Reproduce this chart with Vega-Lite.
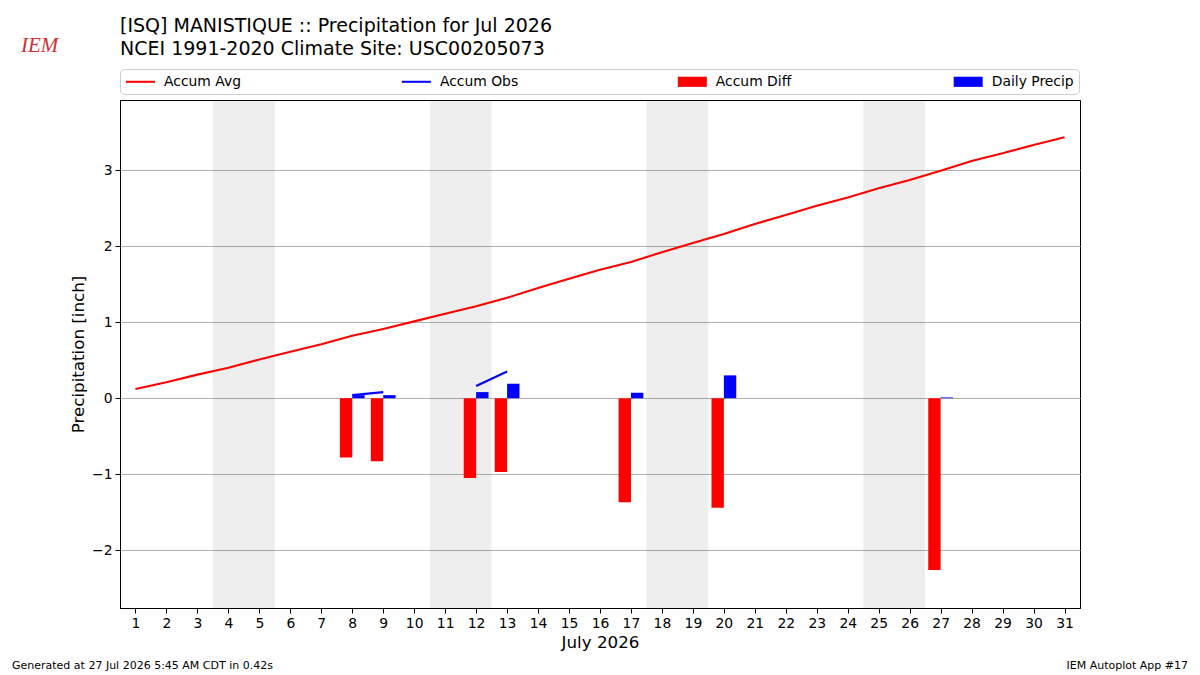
{
  "$schema": "https://vega.github.io/schema/vega-lite/v6.json",
  "width": 960,
  "height": 508,
  "autosize": {"type": "none"},
  "padding": {"left": 120, "top": 100, "right": 120, "bottom": 67},
  "background": "white",
  "title": {
    "text": ["[ISQ] MANISTIQUE :: Precipitation for Jul 2026", "NCEI 1991-2020 Climate Site: USC00205073"],
    "anchor": "start",
    "frame": "group",
    "font": "DejaVu Sans",
    "fontSize": 19,
    "fontWeight": "normal",
    "color": "black",
    "lineHeight": 23,
    "offset": -24
  },
  "config": {
    "font": "DejaVu Sans",
    "view": {"stroke": "black", "strokeWidth": 1},
    "axis": {
      "domainColor": "black",
      "tickColor": "black",
      "labelColor": "black",
      "titleColor": "black",
      "labelFont": "DejaVu Sans",
      "titleFont": "DejaVu Sans",
      "labelFontSize": 13.9,
      "titleFontSize": 16.7,
      "titleFontWeight": "normal",
      "tickSize": 5,
      "labelPadding": 3,
      "gridColor": "#b0b0b0",
      "gridOpacity": 1,
      "gridWidth": 1
    }
  },
  "datasets": {
    "weekends": [
      {"from": 3.5, "to": 5.5},
      {"from": 10.5, "to": 12.5},
      {"from": 17.5, "to": 19.5},
      {"from": 24.5, "to": 26.5}
    ],
    "lines": [
      {"day": 1, "series": "Accum Avg", "run": "avg", "value": 0.12},
      {"day": 2, "series": "Accum Avg", "run": "avg", "value": 0.21},
      {"day": 3, "series": "Accum Avg", "run": "avg", "value": 0.31},
      {"day": 4, "series": "Accum Avg", "run": "avg", "value": 0.40},
      {"day": 5, "series": "Accum Avg", "run": "avg", "value": 0.51},
      {"day": 6, "series": "Accum Avg", "run": "avg", "value": 0.61},
      {"day": 7, "series": "Accum Avg", "run": "avg", "value": 0.71},
      {"day": 8, "series": "Accum Avg", "run": "avg", "value": 0.82},
      {"day": 9, "series": "Accum Avg", "run": "avg", "value": 0.91},
      {"day": 10, "series": "Accum Avg", "run": "avg", "value": 1.01},
      {"day": 11, "series": "Accum Avg", "run": "avg", "value": 1.11},
      {"day": 12, "series": "Accum Avg", "run": "avg", "value": 1.21},
      {"day": 13, "series": "Accum Avg", "run": "avg", "value": 1.32},
      {"day": 14, "series": "Accum Avg", "run": "avg", "value": 1.45},
      {"day": 15, "series": "Accum Avg", "run": "avg", "value": 1.57},
      {"day": 16, "series": "Accum Avg", "run": "avg", "value": 1.69},
      {"day": 17, "series": "Accum Avg", "run": "avg", "value": 1.79},
      {"day": 18, "series": "Accum Avg", "run": "avg", "value": 1.92},
      {"day": 19, "series": "Accum Avg", "run": "avg", "value": 2.04},
      {"day": 20, "series": "Accum Avg", "run": "avg", "value": 2.16},
      {"day": 21, "series": "Accum Avg", "run": "avg", "value": 2.29},
      {"day": 22, "series": "Accum Avg", "run": "avg", "value": 2.41},
      {"day": 23, "series": "Accum Avg", "run": "avg", "value": 2.53},
      {"day": 24, "series": "Accum Avg", "run": "avg", "value": 2.64},
      {"day": 25, "series": "Accum Avg", "run": "avg", "value": 2.76},
      {"day": 26, "series": "Accum Avg", "run": "avg", "value": 2.87},
      {"day": 27, "series": "Accum Avg", "run": "avg", "value": 2.99},
      {"day": 28, "series": "Accum Avg", "run": "avg", "value": 3.12},
      {"day": 29, "series": "Accum Avg", "run": "avg", "value": 3.22},
      {"day": 30, "series": "Accum Avg", "run": "avg", "value": 3.33},
      {"day": 31, "series": "Accum Avg", "run": "avg", "value": 3.43},
      {"day": 8, "series": "Accum Obs", "run": "obs1", "value": 0.04},
      {"day": 9, "series": "Accum Obs", "run": "obs1", "value": 0.08},
      {"day": 12, "series": "Accum Obs", "run": "obs2", "value": 0.16},
      {"day": 13, "series": "Accum Obs", "run": "obs2", "value": 0.35},
      {"day": 17, "series": "Accum Obs", "run": "obs3", "value": 0.42},
      {"day": 20, "series": "Accum Obs", "run": "obs4", "value": 0.72},
      {"day": 27, "series": "Accum Obs", "run": "obs5", "value": 0.73}
    ],
    "bars": [
      {"day": 8, "series": "Accum Diff", "value": -0.78},
      {"day": 9, "series": "Accum Diff", "value": -0.83},
      {"day": 12, "series": "Accum Diff", "value": -1.05},
      {"day": 13, "series": "Accum Diff", "value": -0.97},
      {"day": 17, "series": "Accum Diff", "value": -1.37},
      {"day": 20, "series": "Accum Diff", "value": -1.44},
      {"day": 27, "series": "Accum Diff", "value": -2.26},
      {"day": 8, "series": "Daily Precip", "value": 0.04},
      {"day": 9, "series": "Daily Precip", "value": 0.04},
      {"day": 12, "series": "Daily Precip", "value": 0.08},
      {"day": 13, "series": "Daily Precip", "value": 0.19},
      {"day": 17, "series": "Daily Precip", "value": 0.07},
      {"day": 20, "series": "Daily Precip", "value": 0.30},
      {"day": 27, "series": "Daily Precip", "value": 0.01}
    ]
  },
  "resolve": {"scale": {"x": "independent"}},
  "layer": [
    {
      "data": {"name": "weekends"},
      "mark": {"type": "rect", "color": "black", "opacity": 0.068},
      "encoding": {
        "x": {
          "field": "from",
          "type": "quantitative",
          "scale": {"domain": [0.5, 31.5], "nice": false, "zero": false},
          "axis": {
            "values": [1,2,3,4,5,6,7,8,9,10,11,12,13,14,15,16,17,18,19,20,21,22,23,24,25,26,27,28,29,30,31],
            "format": "d",
            "title": "July 2026",
            "grid": false,
            "labelAngle": 0,
            "labelFlush": false,
            "labelOverlap": false,
            "titlePadding": 5
          }
        },
        "x2": {"field": "to"}
      }
    },
    {
      "data": {"name": "bars"},
      "mark": {"type": "bar"},
      "encoding": {
        "x": {
          "field": "day",
          "type": "ordinal",
          "scale": {
            "domain": [1,2,3,4,5,6,7,8,9,10,11,12,13,14,15,16,17,18,19,20,21,22,23,24,25,26,27,28,29,30,31],
            "paddingInner": 0.2,
            "paddingOuter": 0.1
          },
          "axis": null
        },
        "xOffset": {"field": "series", "scale": {"domain": ["Accum Diff", "Daily Precip"]}},
        "y": {
          "field": "value",
          "type": "quantitative",
          "title": "Precipitation [inch]",
          "scale": {"domain": [-2.759, 3.921], "nice": false, "zero": false},
          "axis": {"values": [-2, -1, 0, 1, 2, 3], "format": "d", "grid": true, "titlePadding": 4}
        },
        "color": {
          "field": "series",
          "type": "nominal",
          "scale": {
            "domain": ["Accum Avg", "Accum Obs", "Accum Diff", "Daily Precip"],
            "range": ["#ff0000", "#0000ff", "#ff0000", "#0000ff"]
          },
          "legend": {
            "orient": "none",
            "legendX": 0,
            "legendY": -31,
            "direction": "horizontal",
            "columns": 4,
            "gridAlign": "all",
            "columnPadding": 154.9,
            "padding": 5,
            "title": null,
            "strokeColor": "#cccccc",
            "fillColor": "white",
            "cornerRadius": 4,
            "labelFont": "DejaVu Sans",
            "labelFontSize": 13.9,
            "labelColor": "black",
            "labelOffset": 16,
            "symbolOffset": 8,
            "symbolSize": 210,
            "symbolStrokeWidth": 0,
            "symbolOpacity": 1,
            "symbolType": "M-2,-0.7H2V0.7H-2Z",
            "encode": {
              "symbols": {
                "update": {
                  "shape": {"signal": "indexof(['Accum Avg', 'Accum Obs'], datum.value) >= 0 ? 'M-2,-0.14H2V0.14H-2Z' : 'M-2,-0.7H2V0.7H-2Z'"},
                  "fill": {"signal": "scale('color', datum.value)"},
                  "strokeWidth": {"value": 0},
                  "opacity": {"value": 1}
                }
              }
            }
          }
        }
      }
    },
    {
      "data": {"name": "lines"},
      "mark": {"type": "line", "strokeWidth": 2.1},
      "encoding": {
        "x": {
          "field": "day",
          "type": "quantitative",
          "scale": {"domain": [0.5, 31.5], "nice": false, "zero": false},
          "axis": null
        },
        "y": {
          "field": "value",
          "type": "quantitative",
          "title": "Precipitation [inch]",
          "scale": {"domain": [-2.759, 3.921], "nice": false, "zero": false}
        },
        "color": {
          "field": "series",
          "type": "nominal",
          "scale": {
            "domain": ["Accum Avg", "Accum Obs", "Accum Diff", "Daily Precip"],
            "range": ["#ff0000", "#0000ff", "#ff0000", "#0000ff"]
          }
        },
        "detail": {"field": "run"}
      }
    },
    {
      "data": {"values": [{"label": "Generated at 27 Jul 2026 5:45 AM CDT in 0.42s"}]},
      "mark": {"type": "text", "align": "left", "baseline": "alphabetic", "fontSize": 11, "color": "black", "clip": false},
      "encoding": {
        "x": {"datum": -2.988, "type": "quantitative", "scale": {"domain": [0.5, 31.5], "nice": false, "zero": false}, "axis": null},
        "y": {"datum": -3.562, "type": "quantitative", "title": "Precipitation [inch]", "scale": {"domain": [-2.759, 3.921], "nice": false, "zero": false}},
        "text": {"field": "label"}
      }
    },
    {
      "data": {"values": [{"label": "IEM Autoplot App #17"}]},
      "mark": {"type": "text", "align": "right", "baseline": "alphabetic", "fontSize": 11, "color": "black", "clip": false},
      "encoding": {
        "x": {"datum": 34.988, "type": "quantitative", "scale": {"domain": [0.5, 31.5], "nice": false, "zero": false}, "axis": null},
        "y": {"datum": -3.562, "type": "quantitative", "title": "Precipitation [inch]", "scale": {"domain": [-2.759, 3.921], "nice": false, "zero": false}},
        "text": {"field": "label"}
      }
    },
    {
      "data": {"values": [{"label": "IEM"}]},
      "mark": {"type": "text", "align": "left", "baseline": "alphabetic", "font": "Liberation Serif", "fontStyle": "italic", "fontSize": 21, "color": "#d03030", "clip": false},
      "encoding": {
        "x": {"datum": -2.697, "type": "quantitative", "scale": {"domain": [0.5, 31.5], "nice": false, "zero": false}, "axis": null},
        "y": {"datum": 4.557, "type": "quantitative", "title": "Precipitation [inch]", "scale": {"domain": [-2.759, 3.921], "nice": false, "zero": false}},
        "text": {"field": "label"}
      }
    }
  ]
}
